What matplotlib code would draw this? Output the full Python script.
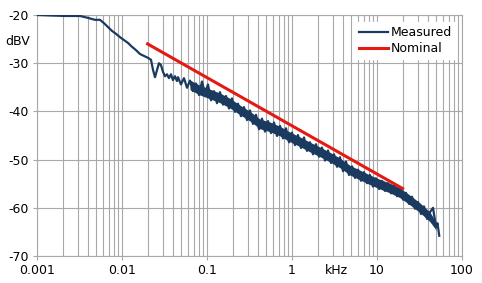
import numpy as np
import matplotlib
matplotlib.use('Agg')
import matplotlib.pyplot as plt
from matplotlib.ticker import LogLocator, NullFormatter

plt.rcParams['axes.unicode_minus'] = False
plt.rcParams['font.family'] = 'DejaVu Sans'

# measured response, smooth part at low frequency (kHz, dBV)
meas_f_low = [0.001, 0.00142, 0.00213, 0.00321, 0.00398, 0.00481, 0.00551, 0.00614,
              0.00684, 0.00762, 0.00849, 0.00947, 0.01056, 0.01177, 0.01312, 0.01463,
              0.0163, 0.01817, 0.02025, 0.02195, 0.02317, 0.02446, 0.02582, 0.02725,
              0.02876, 0.03036, 0.03205, 0.03383, 0.0357, 0.03768, 0.03977, 0.04198,
              0.04431]
meas_db_low = [-20.0, -20.1, -20.2, -20.2, -20.6, -21.0, -21.0, -21.7,
               -22.5, -23.3, -23.9, -24.6, -25.2, -25.8, -26.6, -27.3,
               -28.1, -28.5, -28.9, -29.3, -31.4, -32.9, -31.4, -30.0,
               -30.4, -31.8, -32.7, -32.3, -33.1, -32.3, -33.5, -32.7,
               -33.7]

# measured response, noisy part (kHz, dBV)
meas_f_noise = [0.0456, 0.0494, 0.0536, 0.0582, 0.0631, 0.0684, 0.0742, 0.0805, 0.0873, 0.0947,
                0.1027, 0.1115, 0.1209, 0.1311, 0.1422, 0.1543, 0.1673, 0.1815, 0.1968, 0.2135,
                0.2316, 0.2512, 0.2724, 0.2955, 0.3205, 0.3476, 0.3771, 0.409, 0.4436, 0.4812,
                0.522, 0.5662, 0.6141, 0.6661, 0.7225, 0.7837, 0.8501, 0.922, 1.0, 1.085,
                1.176, 1.276, 1.384, 1.501, 1.628, 1.766, 1.916, 2.078, 2.254, 2.445,
                2.652, 2.877, 3.12, 3.384, 3.671, 3.981, 4.318, 4.684, 5.081, 5.511,
                5.978, 6.484, 7.033, 7.629, 8.275, 8.975, 9.735, 10.56, 11.45, 12.42,
                13.47, 14.62, 15.85, 17.19, 18.65, 20.23, 21.94, 23.8, 25.81, 28.0,
                30.37, 32.94, 35.73, 38.76, 42.04, 45.6, 49.46, 51.5, 54.0]
meas_db_noise = [-32.9, -34.4, -33.1, -35.1, -33.6, -35.8, -34.2, -36.6, -33.8, -36.3,
                 -34.4, -37.7, -35.8, -38.3, -36.0, -38.6, -36.8, -39.4, -37.3, -40.1,
                 -38.4, -41.0, -39.1, -41.8, -39.8, -42.6, -40.7, -43.7, -41.5, -44.2,
                 -42.0, -44.5, -42.3, -45.1, -43.0, -45.6, -43.5, -46.4, -44.4, -47.0,
                 -44.9, -47.6, -45.4, -48.2, -46.4, -48.9, -46.8, -49.4, -47.5, -50.2,
                 -48.1, -50.7, -48.9, -51.5, -49.5, -52.4, -50.4, -53.2, -51.4, -53.8,
                 -52.1, -54.4, -52.6, -54.9, -53.2, -55.6, -53.9, -56.1, -54.4, -56.5,
                 -54.9, -57.0, -55.4, -57.6, -56.1, -58.3, -56.9, -59.2, -57.7, -60.2,
                 -58.8, -61.3, -59.7, -62.3, -60.9, -60.0, -64.0, -63.2, -65.8]

# solid core of the noise band (kHz, dBV low / high)
band_f = [0.0631, 0.0827, 0.1085, 0.1422, 0.1865, 0.2445, 0.3205, 0.4202, 0.5508,
          0.7225, 0.9473, 1.242, 1.628, 2.135, 2.80, 3.671, 4.813, 6.31, 8.275,
          10.85, 14.22, 18.65, 24.45, 32.05, 42.04, 49.46]
band_lo = [-35.5, -36.6, -37.4, -38.2, -39.3, -40.7, -42.0, -43.6, -44.2,
           -45.1, -46.3, -47.3, -48.4, -49.4, -50.5, -51.7, -53.2, -54.2, -55.2,
           -56.1, -56.9, -57.9, -59.4, -61.0, -62.9, -64.6]
band_hi = [-33.5, -34.6, -35.4, -36.2, -37.3, -38.7, -40.0, -41.6, -42.2,
           -43.1, -44.3, -45.3, -46.4, -47.4, -48.5, -49.7, -51.2, -52.2, -53.2,
           -54.1, -54.9, -55.9, -57.4, -59.0, -60.9, -63.0]

nominal_f = [0.02, 20]
nominal_db = [-26.0, -56.0]

x_ticks = [0.001, 0.01, 0.1, 1, 10, 100]
x_labels = ['0.001', '0.01', '0.1', '1', '10', '100']
y_ticks = [-70, -60, -50, -40, -30, -20]

fig = plt.figure(figsize=(4.82, 2.83), dpi=100)
ax = fig.add_axes([37 / 482, 27 / 283, 425 / 482, 241 / 283])

grid_col = '#a8a8a8'
meas_col = '#1b3a60'
ax.plot(meas_f_low + meas_f_noise, meas_db_low + meas_db_noise,
        color=meas_col, lw=1.6, label='Measured', zorder=3)
ax.fill_between(band_f, band_lo, band_hi, color=meas_col, lw=0, zorder=3)
ax.plot(nominal_f, nominal_db, color='#e41a12', lw=2.2, label='Nominal', zorder=4)

ax.set_xscale('log')
ax.set_xlim(0.001, 100)
ax.set_ylim(-70, -20)
ax.set_xticks(x_ticks)
ax.set_xticklabels(x_labels)
ax.xaxis.set_minor_locator(LogLocator(base=10, subs=np.arange(2, 10)))
ax.xaxis.set_minor_formatter(NullFormatter())
ax.set_yticks(y_ticks)
ax.grid(True, which='both', axis='x', color=grid_col, lw=0.8)
ax.grid(True, which='major', axis='y', color=grid_col, lw=0.8)
ax.tick_params(axis='both', which='major', length=3, color=grid_col, labelsize=9, pad=3)
ax.tick_params(axis='x', which='minor', length=0)
for s in ax.spines.values():
    s.set_color(grid_col)
    s.set_linewidth(0.8)

leg = ax.legend(loc='upper right', bbox_to_anchor=(1.0, 0.995), frameon=True,
                fontsize=9, handlelength=2.3, handletextpad=0.2, borderpad=0.3,
                labelspacing=0.25, fancybox=False)
leg.get_frame().set_edgecolor('white')
leg.get_frame().set_facecolor('white')
leg.get_frame().set_alpha(1)

fig.text(5 / 482, 1 - 42 / 283, 'dBV', fontsize=9, va='center', ha='left')
fig.text(336 / 482, 1 - 270 / 283, 'kHz', fontsize=9, va='center', ha='center')

fig.savefig('out.png', dpi=100)
